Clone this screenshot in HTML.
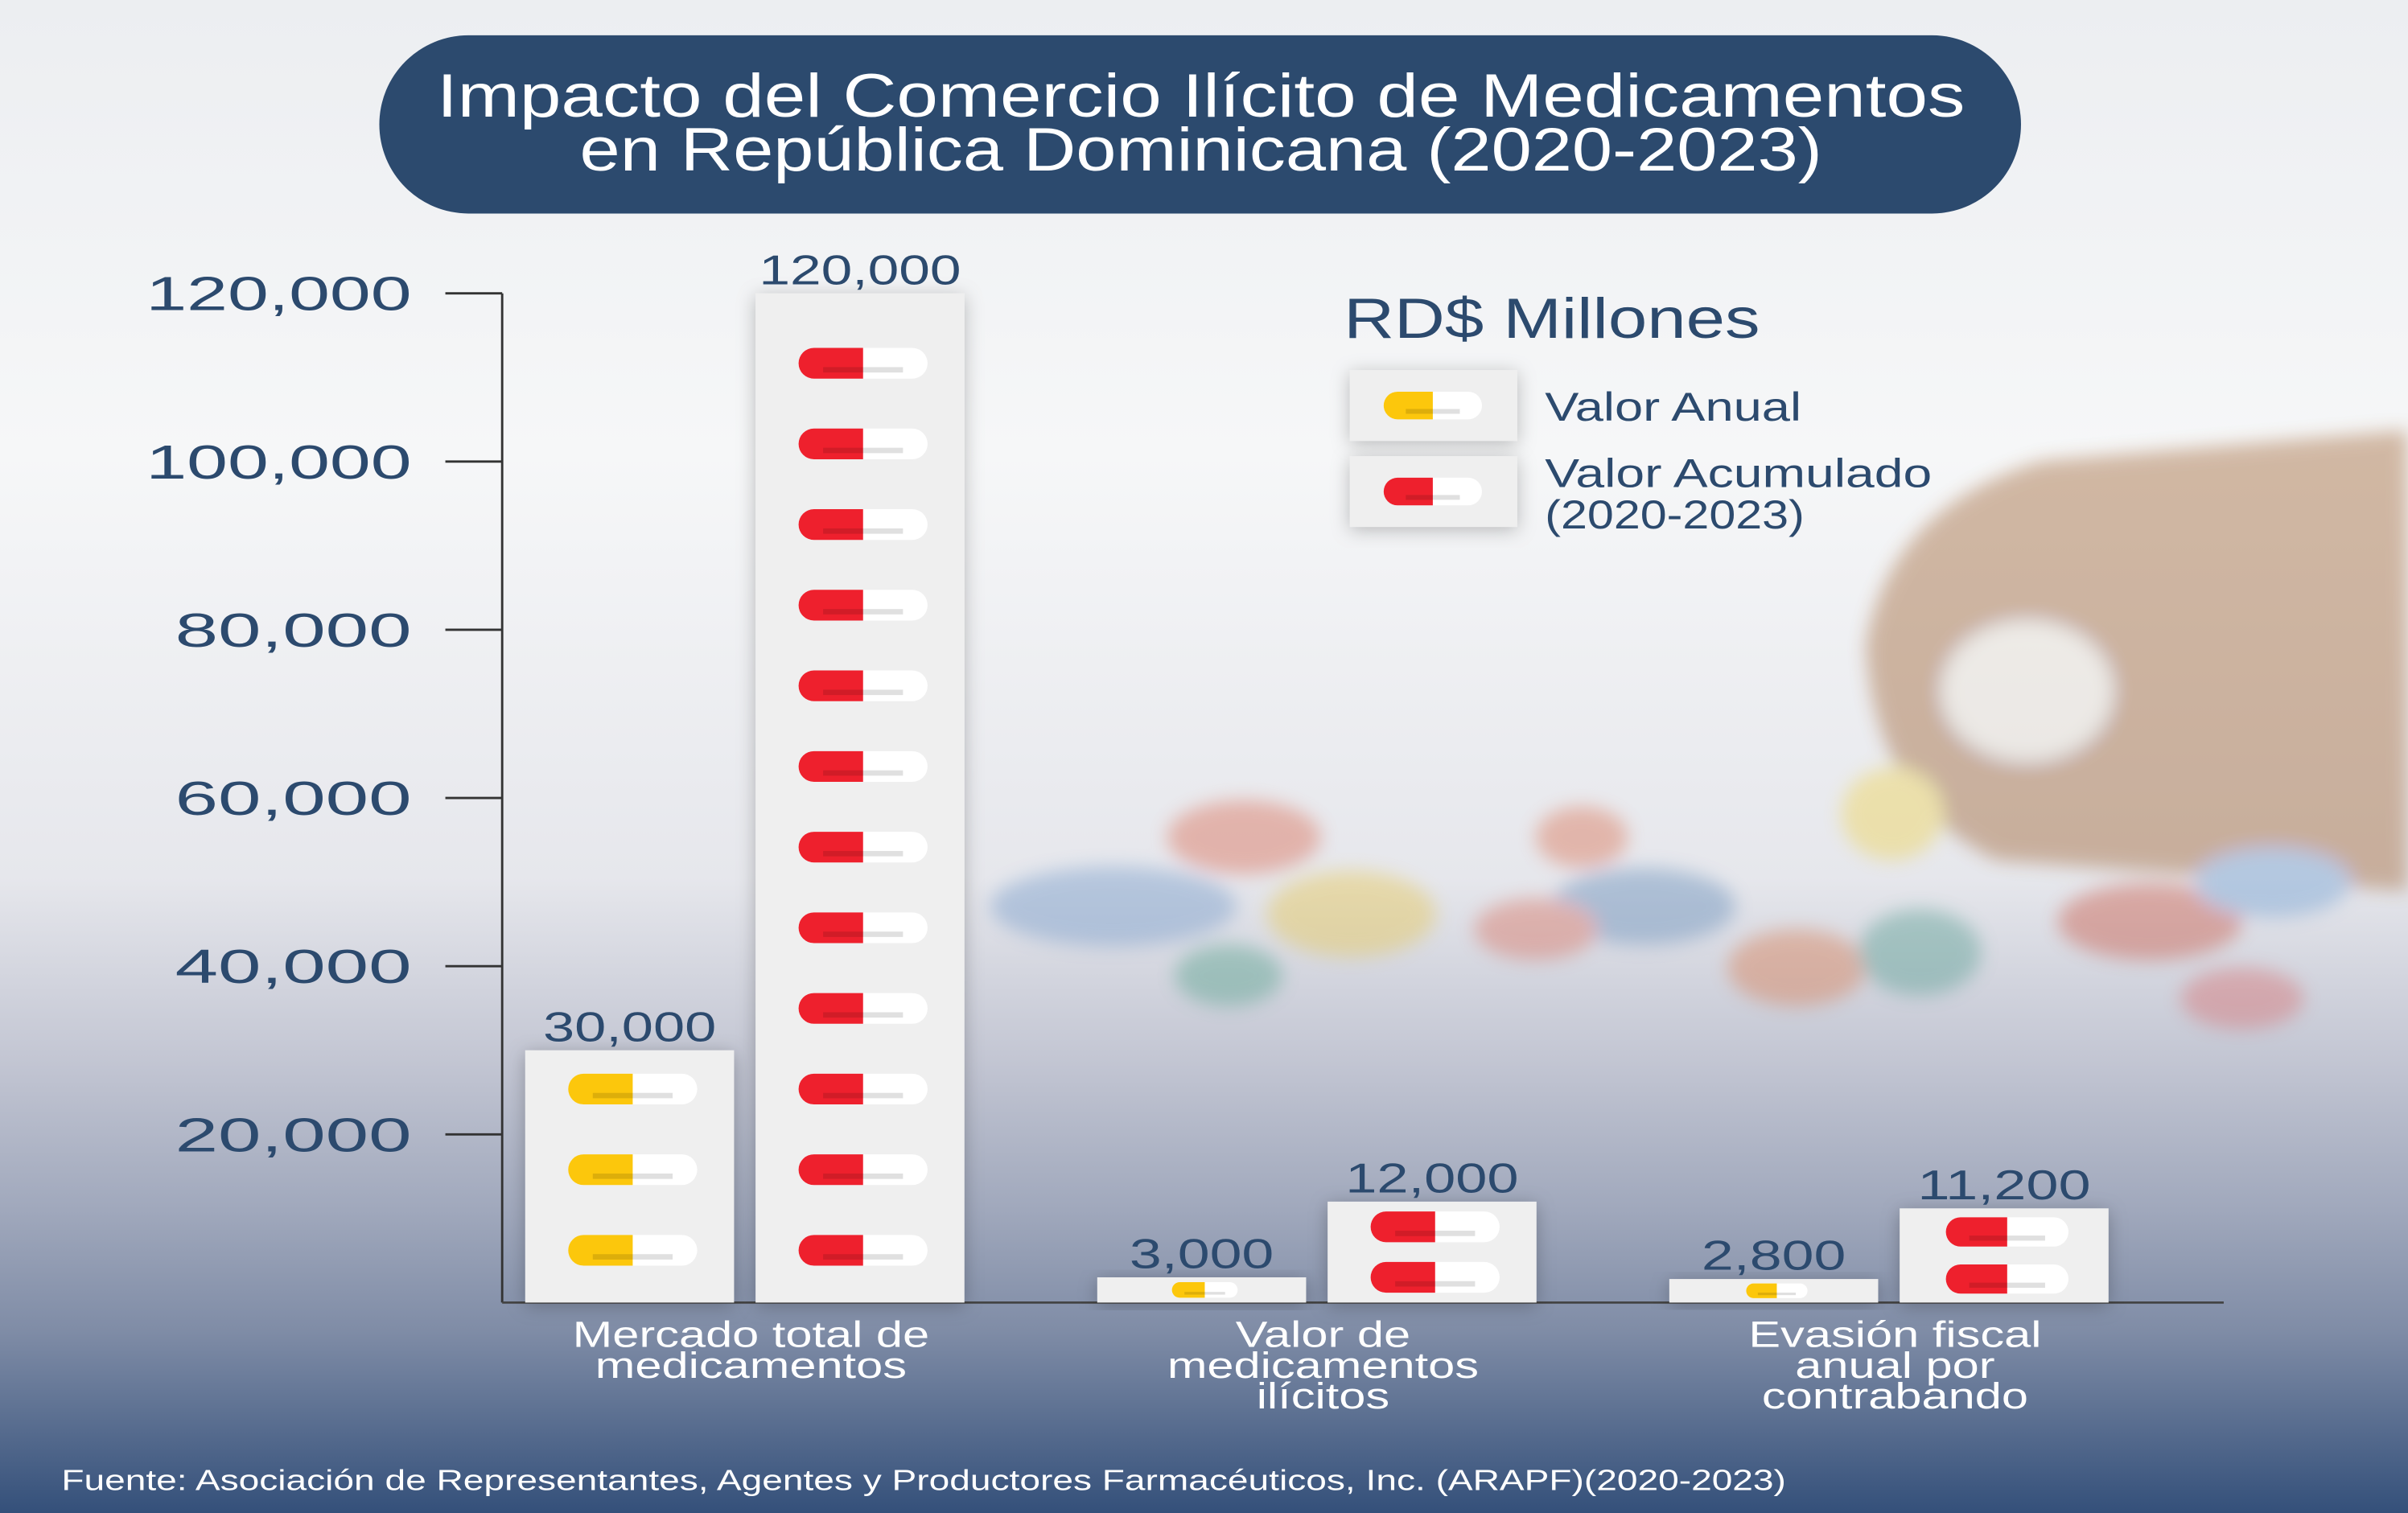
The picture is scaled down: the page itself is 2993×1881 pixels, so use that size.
<!DOCTYPE html>
<html><head><meta charset="utf-8"><style>
html,body{margin:0;padding:0;width:2993px;height:1881px;overflow:hidden;background:#eef0f3}
svg{display:block}
text{font-family:"Liberation Sans",sans-serif}
</style></head><body>
<svg width="2993" height="1881" viewBox="0 0 1568 985" preserveAspectRatio="none" xmlns="http://www.w3.org/2000/svg">
<defs>
<linearGradient id="bg" x1="0" y1="0" x2="0" y2="1">
<stop offset="0" stop-color="#eceef1"/><stop offset="0.3" stop-color="#f6f7f8"/>
<stop offset="0.58" stop-color="#e6e7ec"/><stop offset="0.7" stop-color="#c3c6d3"/>
<stop offset="0.8" stop-color="#a0a8bc"/><stop offset="0.88" stop-color="#7f8ca6"/>
<stop offset="1" stop-color="#34507a"/></linearGradient>
<filter id="blur" x="-20%" y="-20%" width="140%" height="140%"><feGaussianBlur stdDeviation="6"/></filter>
<filter id="sh" x="-30%" y="-30%" width="160%" height="160%"><feDropShadow dx="0" dy="2" stdDeviation="6" flood-color="#000" flood-opacity="0.25"/></filter>
</defs>
<rect width="1568" height="985" fill="url(#bg)"/>
<g filter="url(#blur)" opacity="0.4">
<path d="M1568 280 L1330 300 Q1230 330 1215 420 Q1220 520 1300 560 L1568 580 Z" fill="#9a5a25"/>
<ellipse cx="1320" cy="450" rx="55" ry="45" fill="#ece4d6"/>
<ellipse cx="1232" cy="530" rx="33" ry="30" fill="#f0d24a"/>
<ellipse cx="725" cy="590" rx="80" ry="26" fill="#6d95c7"/>
<ellipse cx="810" cy="545" rx="50" ry="24" fill="#d9644a"/>
<ellipse cx="880" cy="595" rx="55" ry="28" fill="#e7c54a"/>
<ellipse cx="1030" cy="545" rx="30" ry="20" fill="#d96a4a"/>
<ellipse cx="1070" cy="590" rx="60" ry="25" fill="#5b86b5"/>
<ellipse cx="1000" cy="605" rx="40" ry="20" fill="#d96c58"/>
<ellipse cx="1170" cy="630" rx="45" ry="25" fill="#d9774a"/>
<ellipse cx="1250" cy="620" rx="40" ry="28" fill="#4f9a8c"/>
<ellipse cx="1400" cy="600" rx="60" ry="25" fill="#c84f3a"/>
<ellipse cx="1460" cy="650" rx="40" ry="20" fill="#d86b6a"/>
<ellipse cx="800" cy="635" rx="35" ry="20" fill="#4e9e86"/>
<ellipse cx="1480" cy="575" rx="50" ry="22" fill="#6b9bd0"/>
</g>
<g>
<rect x="247" y="23" width="1069" height="116" rx="58" fill="#2c4a6e"/>
<text x="782" y="76" text-anchor="middle" fill="#fff" font-size="40" textLength="995" lengthAdjust="spacingAndGlyphs">Impacto del Comercio Ilícito de Medicamentos</text>
<text x="782" y="111" text-anchor="middle" fill="#fff" font-size="40" textLength="809" lengthAdjust="spacingAndGlyphs">en República Dominicana (2020-2023)</text>
</g>
<g id="axes"></g>
<g id="bars"></g>
<g>
<text x="875" y="220" fill="#2c4a6e" font-size="37" textLength="271" lengthAdjust="spacingAndGlyphs">RD$ Millones</text>
<g>
<rect x="879" y="241" width="109" height="46" fill="#efefef" filter="url(#sh)"/>
<g id="lp1"></g>
<text x="1006" y="274" fill="#2c4a6e" font-size="26" textLength="167" lengthAdjust="spacingAndGlyphs">Valor Anual</text></g>
<g>
<rect x="879" y="297" width="109" height="46" fill="#efefef" filter="url(#sh)"/>
<g id="lp2"></g>
<text x="1006" y="317" fill="#2c4a6e" font-size="26" textLength="252" lengthAdjust="spacingAndGlyphs">Valor Acumulado</text>
<text x="1006" y="344" fill="#2c4a6e" font-size="26" textLength="169" lengthAdjust="spacingAndGlyphs">(2020-2023)</text></g>
</g>
<text x="40" y="970" fill="#fff" font-size="19" textLength="1123" lengthAdjust="spacingAndGlyphs">Fuente: Asociación de Representantes, Agentes y Productores Farmacéuticos, Inc. (ARAPF)(2020-2023)</text>
</svg>
<script>
const categories = ["Mercado total de|medicamentos", "Valor de|medicamentos|ilícitos", "Evasión fiscal|anual por|contrabando"];
const anualValues = [30000, 3000, 2800];
const acumuladoValues = [120000, 12000, 11200];
const valueLabels = ["30,000","3,000","2,800"];
const acumLabels = ["120,000","12,000","11,200"];
const yTicks = [20000, 40000, 60000, 80000, 100000, 120000];
const yTickLabels = ["20,000","40,000","60,000","80,000","100,000","120,000"];

const NS = "http://www.w3.org/2000/svg";
const base = 848, top0 = 191, yMax = 120000;
const y = v => base - (base - top0) * v / yMax;
const groupX = i => 342 + i * 372.5;
const barW = 136;
function mk(tag, attrs, parent){const e=document.createElementNS(NS,tag);for(const k in attrs)e.setAttribute(k,attrs[k]);parent.appendChild(e);return e;}
const axes = document.getElementById('axes');
const bars = document.getElementById('bars');
const navy = "#2c4a6e";
const ax = mk('line',{x1:327,y1:191,x2:327,y2:base,stroke:"#333",'stroke-width':1.5},axes);


const bx = mk('line',{x1:327,y1:base,x2:1448,y2:base,stroke:"#444",'stroke-width':1.5},axes);


yTicks.forEach((t,i)=>{
  const l = mk('line',{x1:290,x2:327,y1:y(t),y2:y(t),stroke:"#333",'stroke-width':1.5},axes);
  
  
  const lab = yTickLabels[i];
  const tx = mk('text',{x:268,y:y(t)+11,'text-anchor':'end',fill:navy,'font-size':31,textLength:lab.length>6?173:154,lengthAdjust:'spacingAndGlyphs'},axes);
  
  
  tx.textContent = lab;
});
function pill(g, cx, cy, w, h, color){
  const r=h/2;
  mk('rect',{x:cx-w/2,y:cy-r,width:w,height:h,rx:r,fill:"#fff"},g);
  mk('path',{d:`M${cx} ${cy-r} H${cx-w/2+r} A${r} ${r} 0 0 0 ${cx-w/2+r} ${cy+r} H${cx} Z`,fill:color},g);
  mk('rect',{x:cx-w/2+h*0.8,y:cy+r*0.25,width:w-h*1.6,height:r*0.35,fill:"rgba(0,0,0,0.12)"},g);
}
function drawBar(x, v, label, color, name){
  const g = mk('g',{},bars);
  
  
  const yt = y(v), h = base - yt;
  mk('rect',{x:x,y:yt,width:barW,height:h,fill:"#efefef",filter:"url(#sh)"},g);
  const n = Math.max(1, Math.ceil(v/10000));
  const sp = Math.min(52.5, h/n);
  const ph = Math.min(20, sp*0.62);
  const pw = ph*4.2;
  for(let k=0;k<n;k++){
    const cy = (sp<52.5) ? base - sp*(k+0.5) : base - 34 - sp*k;
    pill(g, x+barW/2+2, cy, pw, ph, color);
  }
  const t = mk('text',{x:x+barW/2,y:yt-6,'text-anchor':'middle',fill:navy,'font-size':27,textLength:label.length*18.8,lengthAdjust:'spacingAndGlyphs'},g);
  
  
  t.textContent = label;
}
categories.forEach((c,i)=>{
  const x0 = groupX(i);
  drawBar(x0, anualValues[i], valueLabels[i], "#fcc70c", 'bar-anual');
  drawBar(x0+150, acumuladoValues[i], acumLabels[i], "#ee202d", 'bar-acumulado');
  const lines = c.split('|');
  lines.forEach((ln,j)=>{
    const t = mk('text',{x:x0+147,y:877+j*20,'text-anchor':'middle',fill:"#fff",'font-size':24},axes);
    
    
    t.textContent = ln;
    const w = t.getComputedTextLength();
    t.setAttribute('textLength', w*1.3);
    t.setAttribute('lengthAdjust','spacingAndGlyphs');
  });
});
pill(document.getElementById('lp1'), 933, 264, 64, 18, "#fcc70c");
pill(document.getElementById('lp2'), 933, 320, 64, 18, "#ee202d");
</script>
</body></html>
